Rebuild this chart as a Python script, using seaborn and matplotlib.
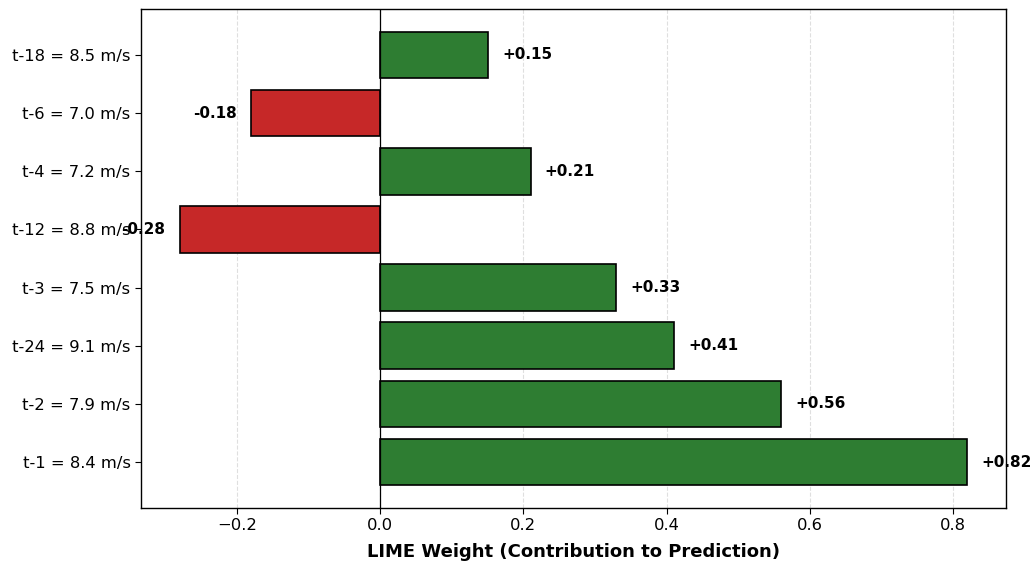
import matplotlib
matplotlib.use("Agg")
import matplotlib.pyplot as plt
import seaborn as sns
import pandas as pd

# LIME feature weights for a single wind-speed prediction
features = ["t-18 = 8.5 m/s", "t-6 = 7.0 m/s", "t-4 = 7.2 m/s", "t-12 = 8.8 m/s",
            "t-3 = 7.5 m/s", "t-24 = 9.1 m/s", "t-2 = 7.9 m/s", "t-1 = 8.4 m/s"]
weights = [0.15, -0.18, 0.21, -0.28, 0.33, 0.41, 0.56, 0.82]

title = "Single Prediction Explained by LIME: Top Lag Features (Wind Speed)"
xlabel = "LIME Weight (Contribution to Prediction)"

POS_COLOR = "#2e7d32"
NEG_COLOR = "#c62828"

sns.set_style("white")
plt.rcParams["font.family"] = ["DejaVu Sans"]
plt.rcParams["text.color"] = "black"
plt.rcParams["axes.labelcolor"] = "black"
plt.rcParams["xtick.color"] = "black"
plt.rcParams["ytick.color"] = "black"

df = pd.DataFrame({"feature": features, "weight": weights})
df["sign"] = ["pos" if w >= 0 else "neg" for w in weights]

fig = plt.figure(figsize=(10.31, 5.64), dpi=100)
ax = fig.add_axes([141 / 1031, 56 / 564, 865 / 1031, 499 / 564])

sns.barplot(data=df, x="weight", y="feature", hue="sign", order=features,
            palette={"pos": POS_COLOR, "neg": NEG_COLOR}, dodge=False,
            saturation=1, edgecolor="black", linewidth=1.2, width=0.8,
            legend=False, ax=ax, orient="h")

for i, w in enumerate(weights):
    if w >= 0:
        ax.text(w + 0.02, i, f"+{w:.2f}", ha="left", va="center",
                fontsize=11, fontweight="bold", color="black")
    else:
        ax.text(w - 0.02, i, f"{w:.2f}", ha="right", va="center",
                fontsize=11, fontweight="bold", color="black")

ax.axvline(0, color="black", linewidth=0.9)
ax.set_xlim(-0.334, 0.874)
ax.set_ylim(7.79, -0.79)
ax.grid(axis="x", linestyle="--", alpha=0.25, color="gray")
ax.set_axisbelow(True)
ax.set_ylabel("")
ax.set_xlabel(xlabel, fontsize=13, fontweight="bold", labelpad=7)
ax.tick_params(axis="both", labelsize=11.8, length=4, left=True, bottom=True)
for s in ax.spines.values():
    s.set_visible(True)
    s.set_color("black")
    s.set_linewidth(1.0)
ax.set_title(title, fontsize=14, fontweight="bold", pad=9)

fig.savefig("out.png", dpi=100)
